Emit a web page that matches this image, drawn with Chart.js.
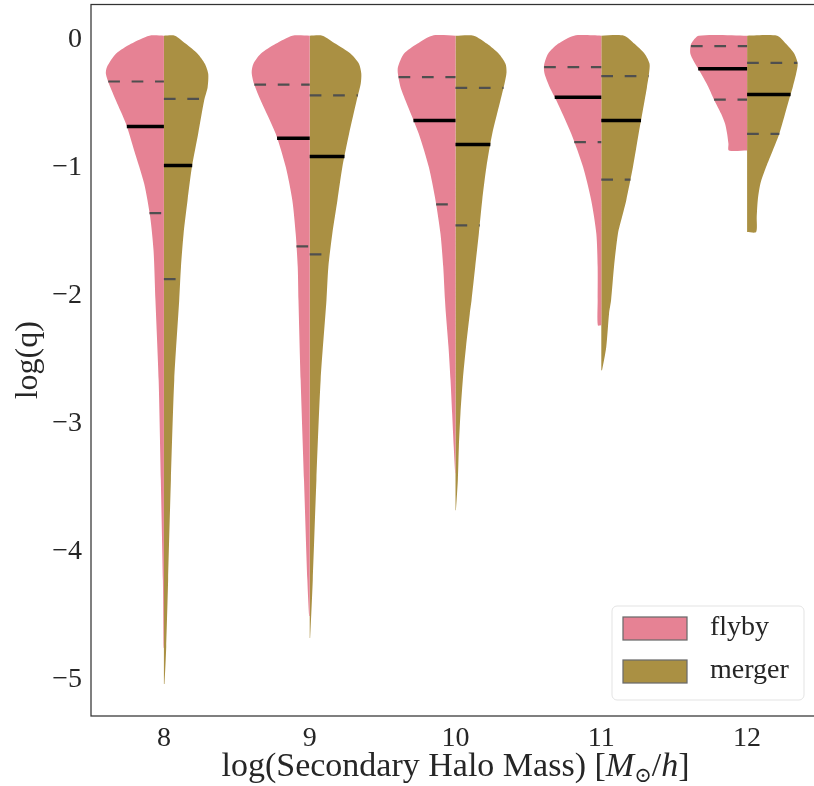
<!DOCTYPE html>
<html>
<head>
<meta charset="utf-8">
<script src="https://cdn.jsdelivr.net/npm/chart.js@4.4.1/dist/chart.umd.min.js"></script>
<style>
html, body { margin: 0; padding: 0; background: #fff; overflow: hidden; }
#wrap { width: 814px; height: 786px; overflow: hidden; }
</style>
</head>
<body>
<div id="wrap"><canvas id="violins" width="822" height="786"></canvas></div>
<script>
// categories and tick labels
const masses = [8, 9, 10, 11, 12];
const xTickLabels = ['8', '9', '10', '11', '12'];
const yTicks = [0, -1, -2, -3, -4, -5];
const yTickLabels = ['0', '\u22121', '\u22122', '\u22123', '\u22124', '\u22125'];
const seriesNames = ['flyby', 'merger'];

// violin outlines: [log(q), half width]
const flyby8 = [[0.03,0.100],[-0.034,0.226],[-0.112,0.329],[-0.216,0.391],[-0.268,0.398],[-0.346,0.377],[-0.476,0.329],[-0.658,0.260],[-0.866,0.204],[-1.126,0.135],[-1.386,0.094],[-1.646,0.071],[-2.036,0.058],[-2.660,0.036],[-3.440,0.021],[-4.220,0.007],[-4.750,0.002]];
const merger8 = [[0.03,0.075],[-0.034,0.151],[-0.112,0.231],[-0.190,0.281],[-0.268,0.304],[-0.372,0.300],[-0.476,0.276],[-0.736,0.235],[-0.996,0.192],[-1.256,0.162],[-1.516,0.135],[-1.776,0.117],[-2.036,0.105],[-2.660,0.071],[-3.440,0.048],[-4.220,0.029],[-4.740,0.016],[-5.030,0.004]];
const flyby9 = [[0.03,0.119],[-0.034,0.233],[-0.112,0.336],[-0.190,0.386],[-0.255,0.398],[-0.346,0.382],[-0.476,0.336],[-0.736,0.233],[-0.996,0.164],[-1.256,0.119],[-1.516,0.096],[-1.776,0.082],[-2.036,0.077],[-2.660,0.062],[-3.440,0.039],[-4.220,0.016],[-4.500,0.004]];
const merger9 = [[0.03,0.087],[-0.034,0.178],[-0.112,0.281],[-0.190,0.338],[-0.268,0.354],[-0.346,0.350],[-0.476,0.322],[-0.736,0.270],[-0.996,0.224],[-1.256,0.190],[-1.516,0.155],[-1.776,0.128],[-2.036,0.115],[-2.660,0.075],[-3.440,0.046],[-4.220,0.021],[-4.672,0.003]];
const flyby10 = [[0.03,0.160],[-0.034,0.263],[-0.112,0.354],[-0.216,0.395],[-0.268,0.395],[-0.372,0.377],[-0.476,0.343],[-0.736,0.252],[-0.996,0.183],[-1.256,0.137],[-1.516,0.103],[-1.776,0.084],[-2.036,0.072],[-2.140,0.066],[-2.400,0.048],[-2.660,0.034],[-2.920,0.023],[-3.180,0.012],[-3.385,0.002]];
const merger10 = [[0.03,0.125],[-0.034,0.217],[-0.112,0.297],[-0.190,0.343],[-0.255,0.350],[-0.346,0.336],[-0.476,0.308],[-0.736,0.252],[-0.996,0.212],[-1.256,0.183],[-1.516,0.160],[-1.776,0.135],[-2.036,0.110],[-2.140,0.098],[-2.400,0.072],[-2.660,0.050],[-2.920,0.034],[-3.180,0.023],[-3.440,0.016],[-3.674,0.003]];
const flyby11 = [[0.03,0.187],[-0.034,0.297],[-0.112,0.365],[-0.203,0.393],[-0.268,0.389],[-0.372,0.354],[-0.476,0.308],[-0.736,0.206],[-0.996,0.125],[-1.256,0.069],[-1.516,0.034],[-1.776,0.025],[-2.036,0.025],[-2.231,0.024]];
const merger11 = [[0.03,0.156],[-0.034,0.228],[-0.112,0.297],[-0.190,0.331],[-0.268,0.327],[-0.372,0.313],[-0.476,0.297],[-0.736,0.256],[-0.996,0.217],[-1.256,0.171],[-1.386,0.142],[-1.516,0.114],[-1.776,0.087],[-2.036,0.067],[-2.140,0.053],[-2.400,0.034],[-2.582,0.005]];
const flyby12 = [[0.03,0.331],[-0.034,0.384],[-0.112,0.389],[-0.190,0.356],[-0.268,0.315],[-0.372,0.265],[-0.476,0.224],[-0.580,0.178],[-0.658,0.151],[-0.736,0.137],[-0.814,0.128],[-0.866,0.125]];
const merger12 = [[0.03,0.206],[-0.034,0.267],[-0.112,0.324],[-0.190,0.347],[-0.268,0.336],[-0.372,0.313],[-0.476,0.286],[-0.736,0.221],[-0.866,0.176],[-0.996,0.130],[-1.126,0.091],[-1.256,0.073],[-1.386,0.066],[-1.503,0.062]];

// quartiles per mass: [upper, median, lower]
const flybyQuartiles = [[-0.328,-0.679,-1.355],[-0.353,-0.770,-1.615],[-0.294,-0.632,-1.287],[-0.216,-0.450,-0.801],[-0.052,-0.229,-0.470]];
const mergerQuartiles = [[-0.463,-0.983,-1.870],[-0.437,-0.913,-1.677],[-0.377,-0.819,-1.451],[-0.286,-0.632,-1.094],[-0.182,-0.429,-0.736]];

const flybyOutlines = [flyby8, flyby9, flyby10, flyby11, flyby12];
const mergerOutlines = [merger8, merger9, merger10, merger11, merger12];

const colors = ['#E68294', '#AA9043'];
const fontFamily = "'Liberation Serif', 'DejaVu Serif', serif";
const textColor = '#262626';

// half width of an outline at a given log(q)
function widthAt(outline, q) {
    for (let i = 0; i < outline.length - 1; i++) {
        const [y0, w0] = outline[i];
        const [y1, w1] = outline[i + 1];
        if (q <= y0 && q >= y1) {
            return w0 + (w1 - w0) * (q - y0) / (y1 - y0);
        }
    }
    return 0;
}

const datasets = [];

function addHalf(mass, outline, side, color, name) {
    const pts = [{x: mass, y: outline[0][0]}];
    outline.forEach(([y, w]) => pts.push({x: mass + side * w, y: y}));
    pts.push({x: mass, y: outline[outline.length - 1][0]});
    datasets.push({
        label: name,
        data: pts,
        backgroundColor: color,
        borderColor: color,
        borderWidth: 0,
        pointRadius: 0,
        tension: 0.25,
        fill: 'shape',
        order: 10
    });
}

function addQuartiles(mass, outline, quartiles, side) {
    quartiles.forEach((q, k) => {
        const w = widthAt(outline, q);
        const pts = side < 0
            ? [{x: mass - w, y: q}, {x: mass, y: q}]
            : [{x: mass, y: q}, {x: mass + w, y: q}];
        const median = k === 1;
        datasets.push({
            label: 'quartile',
            data: pts,
            borderColor: median ? '#000000' : '#4f4f4f',
            borderWidth: median ? 3.5 : 2.2,
            borderDash: median ? [] : [11.7, 11.7],
            pointRadius: 0,
            fill: false,
            tension: 0,
            order: 1
        });
    });
}

masses.forEach((m, i) => {
    addHalf(m, flybyOutlines[i], -1, colors[0], seriesNames[0]);
    addHalf(m, mergerOutlines[i], 1, colors[1], seriesNames[1]);
});
masses.forEach((m, i) => {
    addQuartiles(m, flybyOutlines[i], flybyQuartiles[i], -1);
    addQuartiles(m, mergerOutlines[i], mergerQuartiles[i], 1);
});

const frame = {
    id: 'frame',
    beforeDatasetsDraw(chart) {
        const {ctx, chartArea: a} = chart;
        ctx.save();
        ctx.strokeStyle = '#333333';
        ctx.lineWidth = 1.25;
        ctx.strokeRect(a.left, a.top, a.right - a.left, a.bottom - a.top);
        ctx.restore();
    }
};

const legendBox = {
    id: 'legendBox',
    afterDatasetsDraw(chart) {
        const {ctx, chartArea: a} = chart;
        const w = 192, h = 94;
        const left = a.right - 16 - w;
        const top = a.bottom - 16 - h;
        ctx.save();
        ctx.fillStyle = 'rgba(255,255,255,0.8)';
        ctx.strokeStyle = '#e3e3e3';
        ctx.lineWidth = 1;
        ctx.beginPath();
        ctx.roundRect(left, top, w, h, 5);
        ctx.fill();
        ctx.stroke();
        seriesNames.forEach((name, i) => {
            const py = top + 11 + i * 43;
            ctx.fillStyle = colors[i];
            ctx.fillRect(left + 11, py, 64, 23);
            ctx.strokeStyle = '#6b6b6b';
            ctx.lineWidth = 1.25;
            ctx.strokeRect(left + 11, py, 64, 23);
            ctx.fillStyle = textColor;
            ctx.font = `28px ${fontFamily}`;
            ctx.textBaseline = 'middle';
            ctx.textAlign = 'left';
            ctx.fillText(name, left + 98, py + 11);
        });
        ctx.restore();
    }
};

const xTitle = {
    id: 'xTitle',
    afterDraw(chart) {
        const {ctx, chartArea: a} = chart;
        const size = 34;
        const parts = [
            {t: 'log(Secondary Halo Mass) [', f: `${size}px ${fontFamily}`, dy: 0},
            {t: 'M', f: `italic ${size}px ${fontFamily}`, dy: 0},
            {t: '\u2299', f: `${Math.round(size * 0.62)}px ${fontFamily}`, dy: 6},
            {t: '/', f: `${size}px ${fontFamily}`, dy: 0},
            {t: 'h', f: `italic ${size}px ${fontFamily}`, dy: 0},
            {t: ']', f: `${size}px ${fontFamily}`, dy: 0}
        ];
        ctx.save();
        let total = 0;
        parts.forEach(p => { ctx.font = p.f; p.w = ctx.measureText(p.t).width; total += p.w; });
        let x = (a.left + a.right) / 2 - total / 2;
        const base = a.bottom + 60;
        ctx.fillStyle = textColor;
        ctx.textBaseline = 'alphabetic';
        ctx.textAlign = 'left';
        parts.forEach(p => {
            ctx.font = p.f;
            ctx.fillText(p.t, x, base + p.dy);
            x += p.w;
        });
        ctx.restore();
    }
};

new Chart(document.getElementById('violins'), {
    type: 'line',
    data: { datasets: datasets },
    options: {
        responsive: false,
        animation: false,
        layout: { padding: { top: 4.5, right: 2, left: 0, bottom: 0 } },
        plugins: {
            legend: { display: false },
            tooltip: { enabled: false }
        },
        scales: {
            x: {
                type: 'linear',
                min: 7.5,
                max: 12.5,
                grid: { display: false, drawTicks: false },
                border: { display: false },
                afterBuildTicks: s => { s.ticks = masses.map(v => ({value: v})); },
                afterFit: s => { s.height = 70; s.paddingLeft = 0; s.paddingRight = 0; },
                ticks: {
                    autoSkip: false,
                    maxRotation: 0,
                    padding: 6,
                    color: textColor,
                    font: { family: fontFamily, size: 28 },
                    callback: v => xTickLabels[masses.indexOf(v)]
                }
            },
            y: {
                type: 'linear',
                min: -5.28,
                max: 0.273,
                grid: { display: false, drawTicks: false },
                border: { display: false },
                afterBuildTicks: s => { s.ticks = yTicks.map(v => ({value: v})); },
                afterFit: s => { s.width = 91; s.paddingTop = 0; s.paddingBottom = 0; },
                ticks: {
                    autoSkip: false,
                    padding: 9,
                    color: textColor,
                    font: { family: fontFamily, size: 28 },
                    callback: v => yTickLabels[yTicks.indexOf(v)]
                },
                title: {
                    display: true,
                    text: 'log(q)',
                    color: textColor,
                    font: { family: fontFamily, size: 32 },
                    padding: { top: 9, bottom: 0 }
                }
            }
        }
    },
    plugins: [frame, legendBox, xTitle]
});
</script>
</body>
</html>
